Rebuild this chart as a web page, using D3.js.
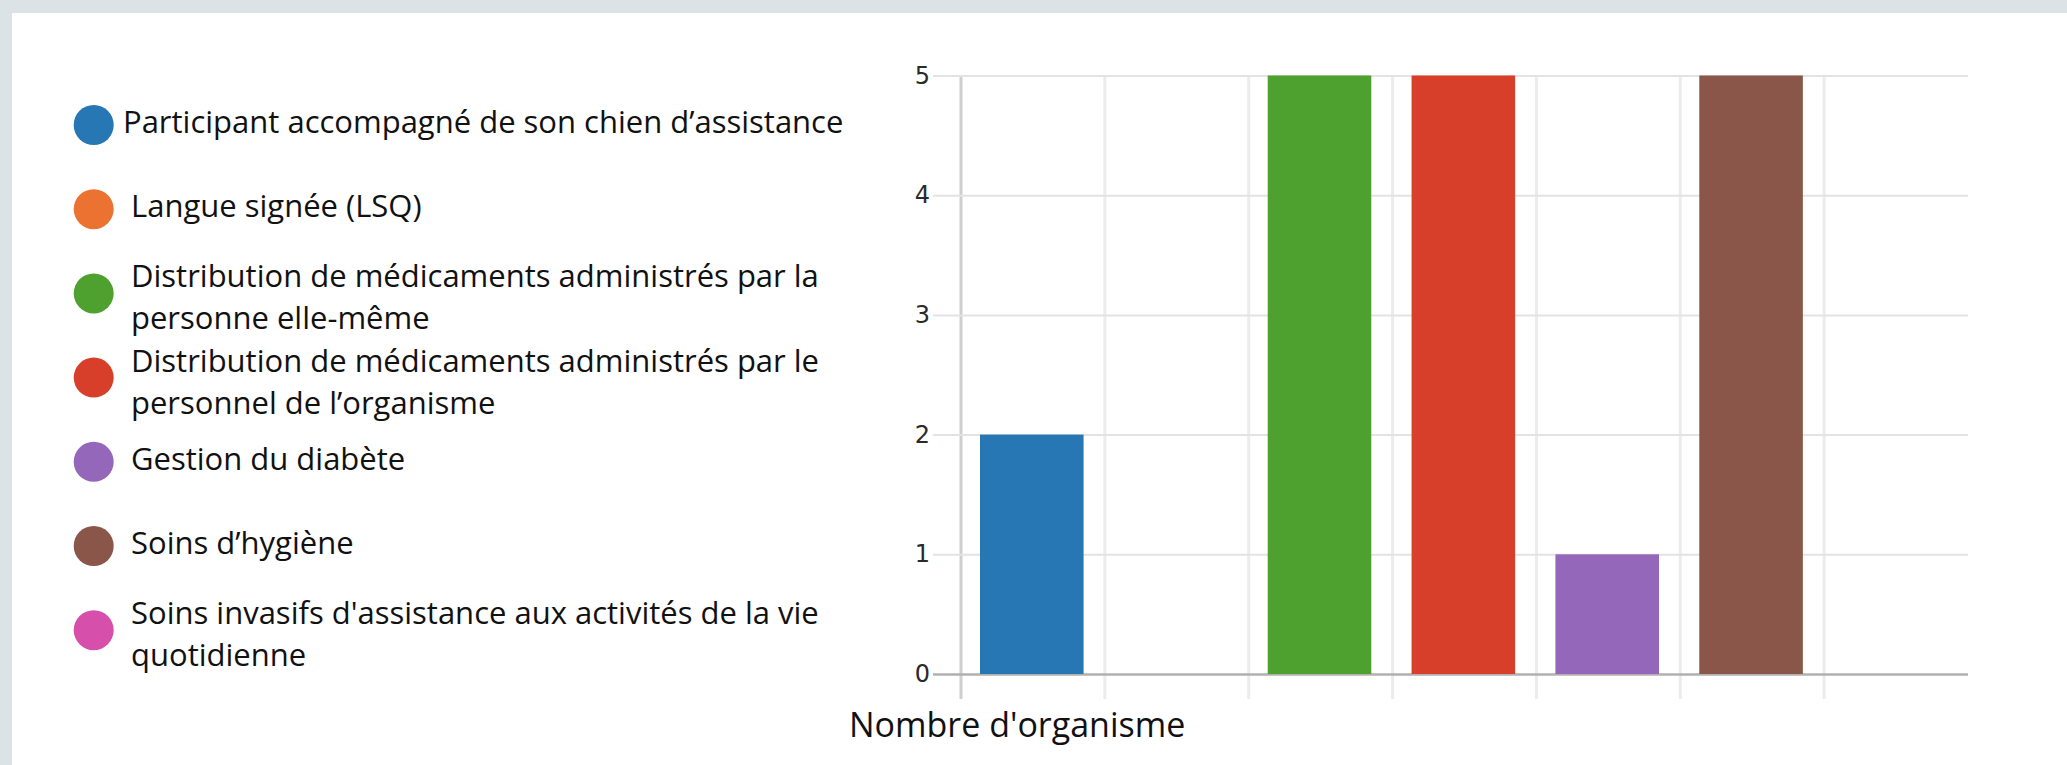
<!DOCTYPE html>
<html>
<head>
<meta charset="utf-8">
<script src="https://cdn.jsdelivr.net/npm/d3@7"></script>
<style>
  body { margin: 0; background: #dce3e6; overflow: hidden; }
  svg { display: block; }
</style>
</head>
<body>
<svg width="2067" height="765"></svg>
<script>
// données du graphe
var categories = [
  "Participant accompagné de son chien d\u2019assistance",
  "Langue signée (LSQ)",
  "Distribution de médicaments administrés par la personne elle-même",
  "Distribution de médicaments administrés par le personnel de l\u2019organisme",
  "Gestion du diabète",
  "Soins d\u2019hygiène",
  "Soins invasifs d'assistance aux activités de la vie quotidienne"
];
var values = [2, 0, 5, 5, 1, 5, 0];
var colors = ["#2677b3", "#ec7231", "#4ea02f", "#d83f2b", "#9467bb", "#8b564a", "#d64faa"];
var yTicks = [0, 1, 2, 3, 4, 5];
var xTitle = "Nombre d'organisme";

var svg = d3.select("svg");

// fond blanc
svg.append("rect")
  .attr("x", 12).attr("y", 13)
  .attr("width", 2067 - 12).attr("height", 765 - 13)
  .attr("fill", "#fff");

var plotLeft = 961, plotRight = 1968, plotTop = 75.5, plotBottom = 674;

var x = d3.scaleBand().domain(categories).range([plotLeft, plotRight]);
var y = d3.scaleLinear().domain([0, 5]).range([plotBottom, plotTop]);

var g = svg.append("g");

// lignes verticales
g.selectAll(".vgrid")
  .data(categories)
  .enter().append("line")
    .attr("class", "vgrid")
    .attr("x1", function(d) { return x(d); })
    .attr("x2", function(d) { return x(d); })
    .attr("y1", plotTop)
    .attr("y2", 699)
    .style("stroke", function(d, i) { return i == 0 ? "#cfcfcf" : "#ececec"; })
    .style("stroke-width", 3);

// axe Y + grille horizontale
var yAxis = d3.axisLeft(y)
  .tickValues(yTicks)
  .tickFormat(d3.format("d"))
  .tickSizeInner(-(plotRight - 933))
  .tickSizeOuter(0)
  .tickPadding(3);

var ya = g.append("g")
  .attr("transform", "translate(933,0)")
  .call(yAxis);

ya.select(".domain").remove();
ya.selectAll(".tick line")
  .style("stroke", function(d) { return d == 0 ? "#b0b0b0" : "#e3e3e3"; })
  .style("stroke-width", function(d) { return d == 0 ? 2.5 : 2; });
ya.selectAll(".tick text")
  .style("font-family", "'DejaVu Sans', sans-serif")
  .style("font-size", "24px")
  .style("fill", "#2a2a2a");

// barres
g.selectAll(".bar")
  .data(values)
  .enter().append("rect")
    .attr("class", "bar")
    .attr("x", function(d, i) { return x(categories[i]) + x.bandwidth() * 0.132; })
    .attr("width", x.bandwidth() * 0.72)
    .attr("y", function(d) { return y(d); })
    .attr("height", function(d) { return y(0) - y(d); })
    .style("fill", function(d, i) { return colors[i]; });

// titre sous le graphe
svg.append("text")
  .attr("x", 849)
  .attr("y", 737)
  .style("font-family", "'Open Sans', sans-serif")
  .style("font-size", "34px")
  .style("fill", "#111")
  .text(xTitle);

// Légende
var legend = svg.append("g");
var wrapWidth = 760;

categories.forEach(function(c, i) {
  var cy = 125 + i * 84.2;
  legend.append("circle")
    .attr("cx", 93.7)
    .attr("cy", cy)
    .attr("r", 20)
    .style("fill", colors[i]);

  var tx = i == 0 ? 123 : 131;
  var text = legend.append("text")
    .attr("x", tx)
    .style("font-family", "'Open Sans', sans-serif")
    .style("font-size", "31px")
    .style("fill", "#111");

  // découpage en lignes
  var words = c.split(" "), lines = [], line = [];
  var probe = text.append("tspan");
  words.forEach(function(w) {
    line.push(w);
    probe.text(line.join(" "));
    if (probe.node().getComputedTextLength() > wrapWidth && line.length > 1) {
      line.pop();
      lines.push(line.join(" "));
      line = [w];
    }
  });
  lines.push(line.join(" "));
  probe.remove();

  var y0 = lines.length == 1 ? cy + 8 : cy - 6;
  lines.forEach(function(l, k) {
    text.append("tspan")
      .attr("x", tx)
      .attr("y", y0 + k * 42)
      .text(l);
  });
});
</script>
</body>
</html>
